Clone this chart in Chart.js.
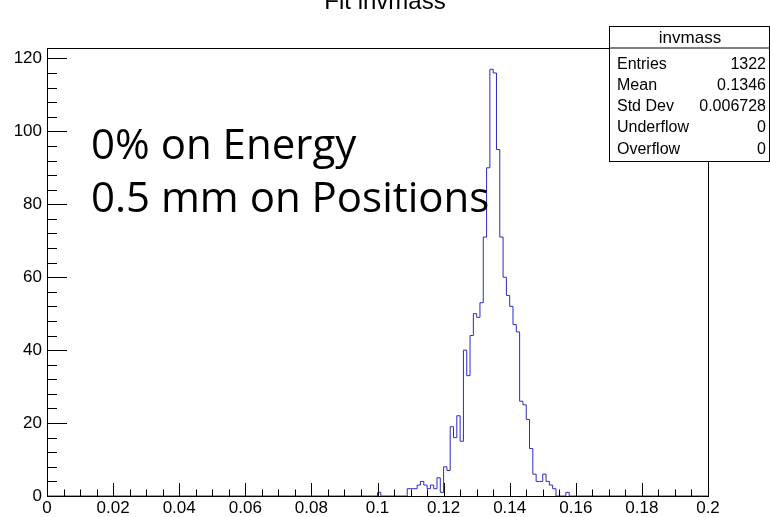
<!DOCTYPE html>
<html>
<head>
<meta charset="utf-8">
<script src="https://cdn.jsdelivr.net/npm/chart.js@4.4.1/dist/chart.umd.min.js"></script>
<style>
  html, body { margin: 0; padding: 0; background: #fff; }
  canvas { display: block; }
</style>
</head>
<body>
<canvas id="chart" width="770" height="517"></canvas>
<script>
(() => {
    // histogram binning: 200 bins over [0, 0.2]
    const nBins = 200;
    const xLow = 0;
    const xHigh = 0.2;
    const binWidth = (xHigh - xLow) / nBins;

    // bin contents, starting at bin 100 (0.100 - 0.101); all other bins are empty
    const firstBin = 100;
    const counts = [
        1, 0, 0, 0, 0, 0, 0, 0, 0, 2,
        2, 2, 3, 4, 3, 2, 3, 2, 5, 1,
        8, 7, 19, 16, 22, 15, 40, 33, 44, 50,
        49, 53, 71, 90, 117, 116, 95, 71, 60, 55,
        52, 47, 45, 26, 25, 21, 13, 6, 4, 4,
        6, 4, 3, 2, 0, 0, 0, 1
    ];

    const xTickLabels = ["0", "0.02", "0.04", "0.06", "0.08", "0.1", "0.12", "0.14", "0.16", "0.18", "0.2"];
    const yTicks = [0, 20, 40, 60, 80, 100, 120];
    const yMax = 117 * 1.05;

    const title = "Fit invmass";
    const notes = ["0% on Energy", "0.5 mm on Positions"];
    const statsName = "invmass";
    const statsLabels = ["Entries", "Mean", "Std Dev", "Underflow", "Overflow"];
    const statsValues = ["1322", "0.1346", "0.006728", "0", "0"];

    const lineColor = "#2b2bc2";
    const rootFont = "'Liberation Sans', Arial, sans-serif";

    // left-edge points, closed at the upper edge
    const points = [];
    for (let i = 0; i < nBins; i++) {
        points.push({ x: xLow + i * binWidth, y: counts[i - firstBin] ?? 0 });
    }
    points.push({ x: xHigh, y: 0 });

    const frame = {
        id: "frame",
        beforeDraw(chart) {
            const { ctx, width, height } = chart;
            ctx.save();
            ctx.fillStyle = "#fff";
            ctx.fillRect(0, 0, width, height);
            ctx.restore();
        },
        afterDatasetsDraw(chart) {
            const { ctx, chartArea: a, scales: { x, y } } = chart;
            ctx.save();
            ctx.strokeStyle = "#000";
            ctx.lineWidth = 1;
            ctx.strokeRect(Math.round(a.left) + 0.5, Math.round(a.top) + 0.5,
                Math.round(a.right - a.left), Math.round(a.bottom - a.top));

            // x ticks: major every 0.02, minor every 0.005
            ctx.beginPath();
            for (let k = 0; k <= 40; k++) {
                const px = Math.round(x.getPixelForValue(k * 0.005)) + 0.5;
                const len = k % 4 === 0 ? 13 : 6.5;
                ctx.moveTo(px, a.bottom);
                ctx.lineTo(px, a.bottom - len);
            }
            // y ticks: major every 20, minor every 4
            for (let v = 0; v <= yMax; v += 4) {
                const py = Math.round(y.getPixelForValue(v)) + 0.5;
                const len = v % 20 === 0 ? 20 : 10;
                ctx.moveTo(a.left, py);
                ctx.lineTo(a.left + len, py);
            }
            ctx.stroke();

            // title, cut off at the top edge
            ctx.fillStyle = "#000";
            ctx.font = "24px " + rootFont;
            ctx.textAlign = "center";
            ctx.textBaseline = "alphabetic";
            ctx.fillText(title, 385, 9);

            // annotation
            ctx.font = "42px 'Open Sans', sans-serif";
            ctx.textAlign = "left";
            ctx.fillText(notes[0], 91, 159);
            ctx.fillText(notes[1], 91, 212);

            // stats box
            const bx = 609.5, by = 26.5, bw = 160, bh = 135, hh = 21.5;
            ctx.fillStyle = "#fff";
            ctx.fillRect(bx, by, bw, bh);
            ctx.strokeRect(bx, by, bw, bh);
            ctx.beginPath();
            ctx.moveTo(bx, by + hh);
            ctx.lineTo(bx + bw, by + hh);
            ctx.stroke();
            ctx.fillStyle = "#000";
            ctx.font = "17px " + rootFont;
            ctx.textAlign = "center";
            ctx.textBaseline = "middle";
            ctx.fillText(statsName, 690, 38);
            ctx.font = "16px " + rootFont;
            const rowY = [65, 86, 107, 128, 150];
            statsLabels.forEach((label, i) => {
                ctx.textAlign = "left";
                ctx.fillText(label, 617, rowY[i]);
                ctx.textAlign = "right";
                ctx.fillText(statsValues[i], 766, rowY[i]);
            });
            ctx.restore();
        }
    };

    new Chart(document.getElementById("chart"), {
        type: "line",
        data: {
            datasets: [{
                data: points,
                stepped: true,
                borderColor: lineColor,
                borderWidth: 1,
                pointRadius: 0,
                fill: false,
            }]
        },
        options: {
            responsive: false,
            animation: false,
            events: [],
            layout: { padding: { top: 48, right: 62, left: 0, bottom: 0 } },
            plugins: {
                legend: { display: false },
                tooltip: { enabled: false },
            },
            scales: {
                x: {
                    type: "linear",
                    min: xLow,
                    max: xHigh,
                    grid: { display: false, drawTicks: false },
                    border: { display: false },
                    afterFit: scale => { scale.height = 21; },
                    ticks: {
                        stepSize: 0.02,
                        maxRotation: 0,
                        autoSkip: false,
                        padding: 2,
                        color: "#000",
                        font: { family: rootFont, size: 17 },
                        callback: (value, index) => xTickLabels[index],
                    },
                },
                y: {
                    min: 0,
                    max: yMax,
                    grid: { display: false, drawTicks: false },
                    border: { display: false },
                    afterFit: scale => { scale.width = 47; },
                    afterBuildTicks: scale => {
                        scale.ticks = yTicks.map(value => ({ value }));
                    },
                    ticks: {
                        padding: 5,
                        color: "#000",
                        font: { family: rootFont, size: 17 },
                    },
                },
            },
        },
        plugins: [frame],
    });
})();
</script>
</body>
</html>
